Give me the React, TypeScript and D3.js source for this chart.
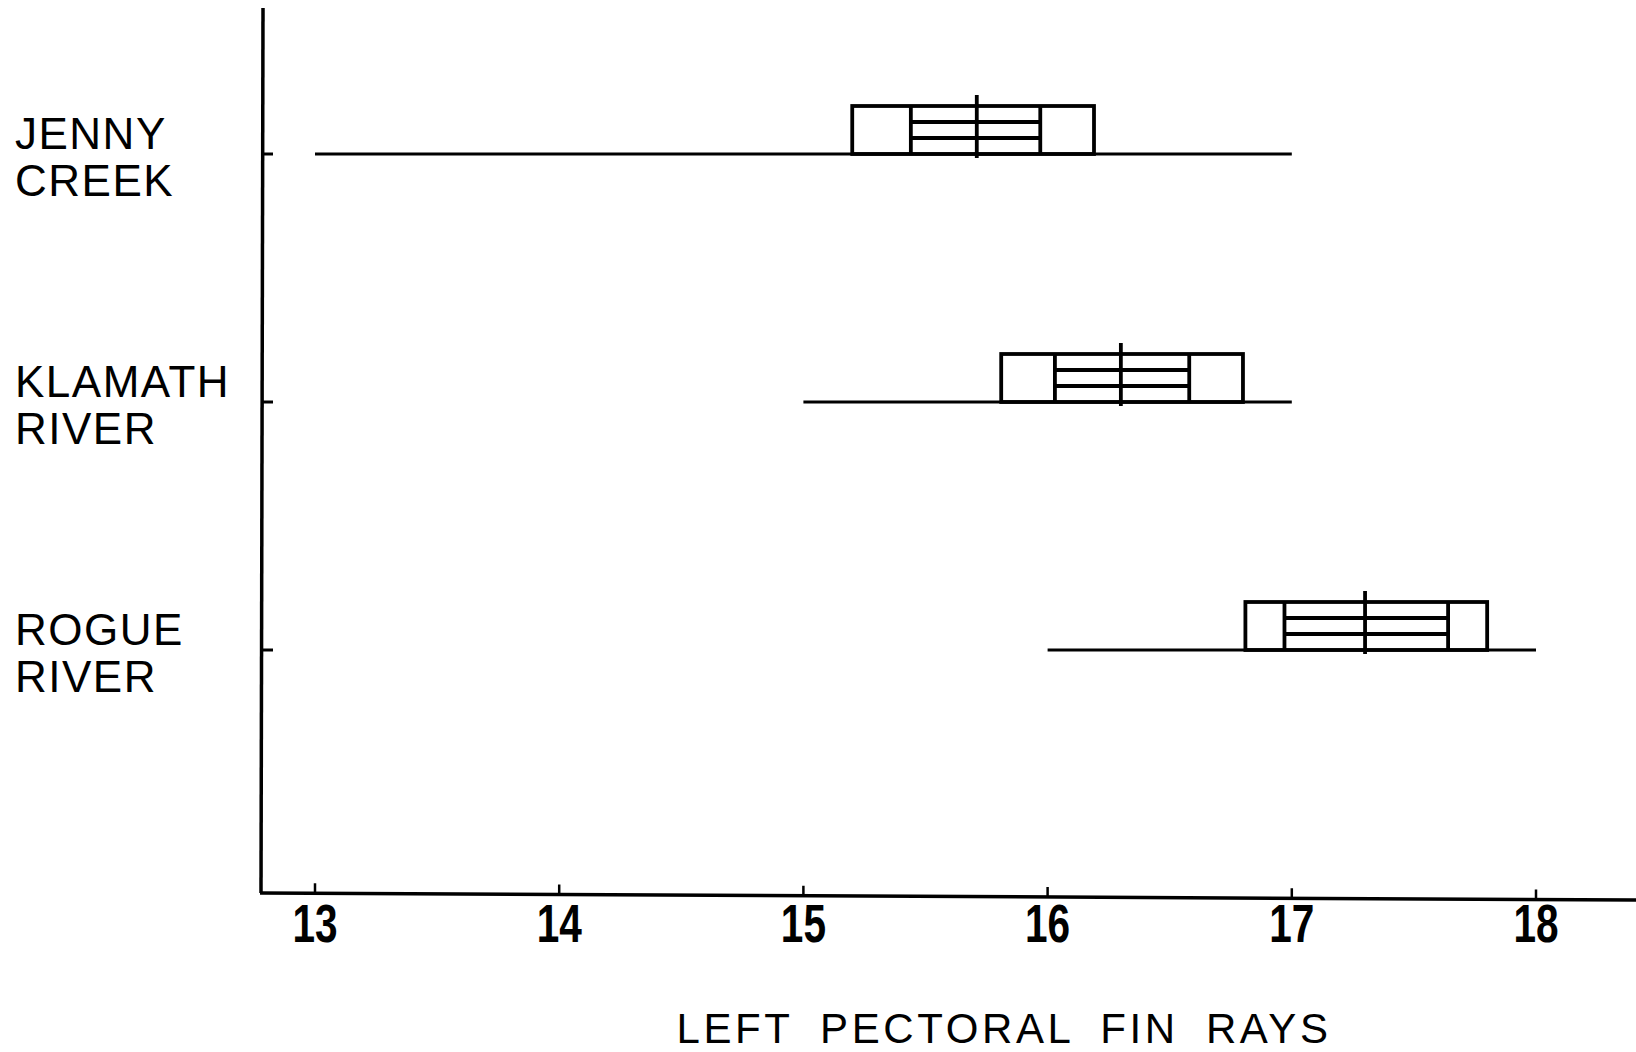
import React from "react";
import * as d3 from "d3";

const categoryLines: string[][] = [["JENNY", "CREEK"], ["KLAMATH", "RIVER"], ["ROGUE", "RIVER"]];
const rangeMin = [13, 15, 16];
const rangeMax = [17, 17, 18];
const outerLo = [15.2, 15.81, 16.81];
const outerHi = [16.19, 16.8, 17.8];
const innerLo = [15.44, 16.03, 16.97];
const innerHi = [15.97, 16.58, 17.64];
const means = [15.71, 16.3, 17.3];
const xTicks = [13, 14, 15, 16, 17, 18];
const xTitle = "LEFT PECTORAL FIN RAYS";

const W = 1636;
const H = 1052;

export default function App() {
  const x = d3.scaleLinear().domain([13, 18]).range([315, 1536]);
  const y = d3.scaleLinear().domain([0, 2]).range([154, 650]);
  const axisX = 262;
  const axisY = 893;
  const boxH = 48;
  const sw = 3.8;
  const labelFont = "'Liberation Sans', Arial, sans-serif";

  return (
    <svg width={W} height={H} style={{ position: "absolute", left: 0, top: 0, background: "#fff" }}>
      <rect x={0} y={0} width={W} height={H} fill="#fff" />
      {/* axes */}
      <line x1={axisX + 1} y1={8} x2={axisX - 1} y2={axisY} stroke="#000" strokeWidth={3.5} />
      <line x1={axisX - 2} y1={axisY} x2={W} y2={axisY + 7} stroke="#000" strokeWidth={3.5} />
      {xTicks.map((t, i) => {
        const tx = x(t);
        const ty = axisY + (7 * (tx - axisX)) / (W - axisX);
        return (
          <g key={"xt" + i}>
            <line x1={tx} y1={ty} x2={tx} y2={ty - 10} stroke="#000" strokeWidth={2.5} />
            <text
              transform={`translate(${tx},942) scale(0.78,1.04)`}
              textAnchor="middle"
              fontFamily={labelFont}
              fontWeight="bold"
              fontSize={52}
              fill="#000"
            >
              {t}
            </text>
          </g>
        );
      })}
      <text
        x={1004}
        y={1043}
        textAnchor="middle"
        fontFamily={labelFont}
        fontSize={42}
        letterSpacing={3.6}
        wordSpacing={12}
        fill="#000"
      >
        {xTitle}
      </text>
      {categoryLines.map((lines, i) => {
        const cy = y(i);
        return (
          <g key={"c" + i}>
            <line x1={axisX} y1={cy} x2={axisX + 11} y2={cy} stroke="#000" strokeWidth={3} />
            {lines.map((ln, j) => (
              <text
                key={j}
                x={15}
                y={cy - 5 + j * 47}
                fontFamily={labelFont}
                fontSize={44}
                letterSpacing={1.5}
                fill="#000"
              >
                {ln}
              </text>
            ))}
            {/* range whisker */}
            <line x1={x(rangeMin[i])} y1={cy} x2={x(rangeMax[i])} y2={cy} stroke="#000" strokeWidth={3.2} />
            {/* outer box */}
            <rect
              x={x(outerLo[i])}
              y={cy - boxH}
              width={x(outerHi[i]) - x(outerLo[i])}
              height={boxH}
              fill="none"
              stroke="#000"
              strokeWidth={sw}
            />
            {/* inner box */}
            <line x1={x(innerLo[i])} y1={cy - boxH} x2={x(innerLo[i])} y2={cy} stroke="#000" strokeWidth={sw} />
            <line x1={x(innerHi[i])} y1={cy - boxH} x2={x(innerHi[i])} y2={cy} stroke="#000" strokeWidth={sw} />
            <line x1={x(innerLo[i])} y1={cy - (boxH * 2) / 3} x2={x(innerHi[i])} y2={cy - (boxH * 2) / 3} stroke="#000" strokeWidth={sw} />
            <line x1={x(innerLo[i])} y1={cy - boxH / 3} x2={x(innerHi[i])} y2={cy - boxH / 3} stroke="#000" strokeWidth={sw} />
            {/* mean */}
            <line x1={x(means[i])} y1={cy - boxH - 11} x2={x(means[i])} y2={cy + 4} stroke="#000" strokeWidth={sw} />
          </g>
        );
      })}
    </svg>
  );
}
